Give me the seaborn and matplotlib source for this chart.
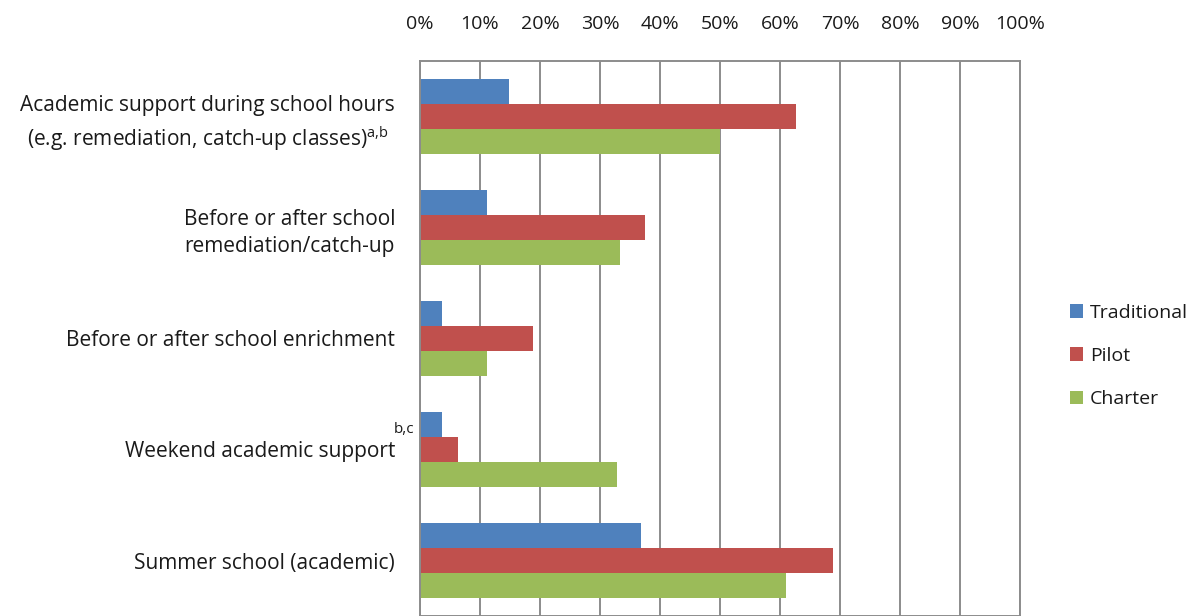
import pandas as pd
import numpy as np
import matplotlib
matplotlib.use('Agg')
import matplotlib.pyplot as plt
import seaborn as sns
from matplotlib.ticker import PercentFormatter

# categories and values (share of schools, %)
activities = ['Academic support during school hours\n(e.g. remediation, catch-up classes)',
              'Before or after school\nremediation/catch-up',
              'Before or after school enrichment',
              'Weekend academic support',
              'Summer school (academic)']
school_types = ['Traditional', 'Pilot', 'Charter']
traditional = [14.8, 11.1, 3.6, 3.6, 36.9]
pilot = [62.6, 37.5, 18.9, 6.4, 68.8]
charter = [50.0, 33.3, 11.1, 32.9, 61.0]
footnotes = ['a,b', '', '', 'b,c', '']

colors = ['#4F81BD', '#C0504D', '#9BBB59']

df = pd.DataFrame({
    'activity': activities * 3,
    'type': [t for t in school_types for _ in activities],
    'pct': traditional + pilot + charter,
})

sns.set_style('white')
plt.rcParams['font.family'] = ['Open Sans', 'DejaVu Sans']
plt.rcParams['mathtext.fontset'] = 'custom'
plt.rcParams['mathtext.rm'] = 'Open Sans'
fs = 15
txt = '#1a1a1a'

fig = plt.figure(figsize=(11.97, 6.16), dpi=100)
ax = fig.add_axes([420 / 1197, 0, 600 / 1197, 1 - 61 / 616])

sns.barplot(data=df, y='activity', x='pct', hue='type', order=activities,
            hue_order=school_types, palette=colors, orient='h', width=0.667,
            saturation=1, edgecolor='none', ax=ax, legend=True)

ax.set_xlim(0, 100)
ax.set_ylim(4.5, -0.5)
ax.set_xticks(np.arange(0, 101, 10))
ax.xaxis.set_major_formatter(PercentFormatter(decimals=0))
ax.xaxis.tick_top()
ax.tick_params(axis='x', length=0, pad=20, labelsize=14, labelcolor=txt)
ax.tick_params(axis='y', length=0, pad=18, labelsize=fs, labelcolor=txt)

# first label carries its footnote as a superscript
ylabels = list(activities)
ylabels[0] = ylabels[0] + '$^{\\mathrm{' + footnotes[0].replace(',', '{,}') + '}}$'
ax.set_yticks(range(len(activities)))
ax.set_yticklabels(ylabels)
for lab in ax.get_yticklabels():
    lab.set_multialignment('center')
    lab.set_linespacing(1.4)
ax.set_xlabel('')
ax.set_ylabel('')
ax.grid(axis='x', color='#8c8c8c', linewidth=1.4)
ax.set_axisbelow(True)
for s in ax.spines.values():
    s.set_color('#8c8c8c')
    s.set_linewidth(1.4)

# footnote marker for the weekend row sits in the gap beside the axis
trans = ax.get_yaxis_transform()
ax.text(-0.044, 2.82, footnotes[3], transform=trans, fontsize=11,
        color=txt, ha='left', va='center')

handles, labels = ax.get_legend_handles_labels()
ax.get_legend().remove()
fig.legend(handles, labels, loc='center left', bbox_to_anchor=(1052 / 1197, 1 - 356 / 616),
           frameon=False, fontsize=14, handlelength=0.7, handleheight=0.7,
           handletextpad=0.35, labelspacing=1.3, labelcolor=txt)

fig.savefig('out.png', dpi=100)
